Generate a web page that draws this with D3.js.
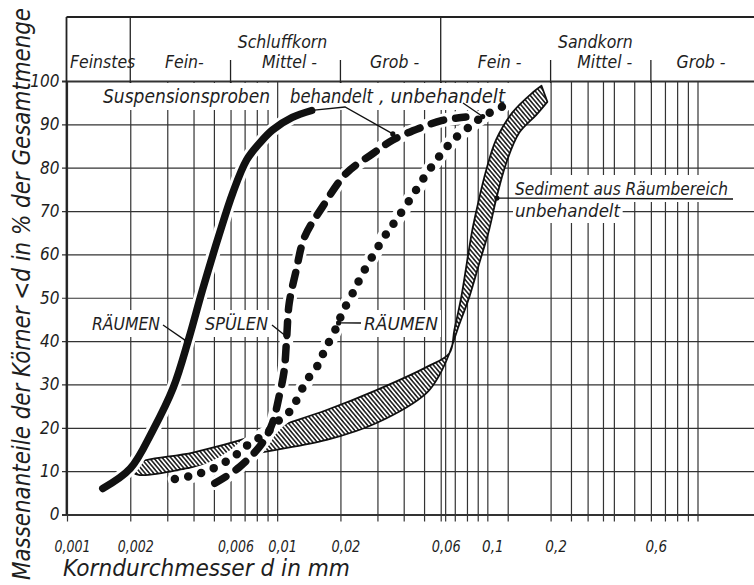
<!DOCTYPE html>
<html>
<head>
<meta charset="utf-8">
<script src="https://cdn.jsdelivr.net/npm/d3@7"></script>
<style>
  body { margin: 0; background: #fff; }
  text { font-family: "DejaVu Sans Condensed", "DejaVu Sans", sans-serif; font-style: italic; fill: #1e1e1e; }
</style>
</head>
<body>
<script>
// Kornverteilung: Massenanteile der Körner < d in % der Gesamtmenge

var percentTicks = [0, 10, 20, 30, 40, 50, 60, 70, 80, 90, 100];
var diameterLabels = [0.001, 0.002, 0.006, 0.01, 0.02, 0.06, 0.1, 0.2, 0.6];
var gridDiameters = [0.001, 0.002, 0.003, 0.004, 0.005, 0.006, 0.007, 0.008, 0.009,
                     0.01, 0.02, 0.03, 0.04, 0.05, 0.06, 0.063, 0.07, 0.08, 0.09,
                     0.1, 0.125, 0.2, 0.25, 0.3, 0.355, 0.4, 0.5, 0.6, 0.7, 0.8, 0.9, 1];

// header: fractions and groups
var fractionNames = ['Feinstes', 'Fein-', 'Mittel -', 'Grob -', 'Fein -', 'Mittel -', 'Grob -'];
var fractionLimits = [0.001, 0.002, 0.006, 0.02, 0.06, 0.2, 0.6, 1.9];
var majorLimits = [0.002, 0.06];
var groupNames = ['Schluffkorn', 'Sandkorn'];
var groupLimits = [[0.002, 0.06], [0.06, 1.9]];

// curves [d in mm, percent]
var raeumenBehandelt = [[0.00148, 6], [0.002, 10.6], [0.00256, 19.4], [0.0032, 29.2], [0.0038, 40.6],
  [0.0044, 51.6], [0.0053, 64.6], [0.00615, 74.2], [0.00716, 81.8], [0.00826, 85.7],
  [0.0095, 88.7], [0.0118, 91.6], [0.0146, 93.2]];

var spuelenBehandelt = [[0.00505, 7.2], [0.0066, 10.9], [0.0085, 16.5], [0.0095, 21.1], [0.0102, 27.1],
  [0.0108, 33.2], [0.0111, 40.9], [0.0114, 48.6], [0.0123, 56.2], [0.0135, 64], [0.0164, 70.9],
  [0.0213, 78.7], [0.0284, 83.2], [0.0355, 86.4], [0.0475, 89.1], [0.061, 90.9], [0.079, 91.7]];

var raeumenUnbehandelt = [[0.00326, 8.2], [0.00397, 9], [0.00494, 10.6], [0.00615, 13.2], [0.0074, 16.4],
  [0.0089, 18.8], [0.0102, 21.7], [0.0114, 23.6], [0.0125, 26.8], [0.0138, 30.9], [0.0156, 34.4],
  [0.0168, 37.8], [0.0192, 43.3], [0.0204, 46.5], [0.0233, 51.8], [0.025, 54.8], [0.029, 60.3],
  [0.0334, 65.1], [0.0369, 68], [0.0435, 73.2], [0.0514, 78.6], [0.061, 83.5], [0.071, 87],
  [0.084, 89.8], [0.095, 91.8], [0.118, 94.1]];

// Sediment aus Räumbereich, unbehandelt (band between two limits)
var sedimentOben = [[0.00200, 10.1], [0.0021, 11.7], [0.00397, 14.3], [0.00716, 17.6], [0.00995, 20.2],
  [0.0172, 24.1], [0.0297, 28.7], [0.0513, 34.0], [0.066, 37.2], [0.0697, 42.6], [0.0752, 50.2],
  [0.0803, 58.7], [0.0849, 65.7], [0.0896, 71.0], [0.0989, 79.5], [0.110, 86.4], [0.1315, 92.7],
  [0.164, 97.3], [0.181, 98.9]];
var sedimentUnten = [[0.00200, 10.1], [0.00222, 9.1], [0.00397, 10.9], [0.00826, 14.2], [0.0172, 17.2],
  [0.0297, 21.1], [0.0513, 28.0], [0.0592, 32.2], [0.066, 37.2], [0.072, 42.6], [0.0821, 50.2],
  [0.0916, 58.0], [0.102, 65.7], [0.110, 72.6], [0.123, 81.1], [0.142, 88.1], [0.171, 92.2],
  [0.193, 95.2]];

var W = 754, H = 585;
var headerTop = 17;

var x = d3.scaleLog().domain([0.001, 1]).range([67, 697.5]);
var y = d3.scaleLinear().domain([0, 100]).range([514.5, 81]);

var svg = d3.select('body').append('svg')
            .attr('width', W)
            .attr('height', H);
svg.append('rect').attr('width', W).attr('height', H).attr('fill', '#fff');

var defs = svg.append('defs');
var hatch = defs.append('pattern')
                .attr('id', 'hatch')
                .attr('patternUnits', 'userSpaceOnUse')
                .attr('width', 3.3)
                .attr('height', 3.3)
                .attr('patternTransform', 'rotate(-40)');
hatch.append('rect').attr('width', 3.3).attr('height', 3.3).attr('fill', '#fff');
hatch.append('line')
     .attr('x1', 1.65).attr('y1', 0).attr('x2', 1.65).attr('y2', 3.3)
     .attr('stroke', '#111').attr('stroke-width', 1.5);

// grid, via axes
var xGrid = svg.append('g')
               .attr('transform', 'translate(0,' + y(0) + ')')
               .call(d3.axisBottom(x)
                       .tickValues(gridDiameters)
                       .tickSizeOuter(0)
                       .tickFormat(''));
xGrid.select('.domain').remove();
xGrid.selectAll('.tick line')
     .attr('y1', 7)
     .attr('y2', y(100) - y(0))
     .attr('stroke', '#333')
     .attr('stroke-width', 1.2);

var yGrid = svg.append('g')
               .attr('transform', 'translate(66.5,0)')
               .call(d3.axisLeft(y)
                       .tickValues(percentTicks)
                       .tickSize(-(W - 66.5))
                       .tickSizeOuter(0)
                       .tickPadding(7));
yGrid.select('.domain').remove();
yGrid.selectAll('.tick line')
     .attr('x1', -4.5)
     .attr('stroke', '#333')
     .attr('stroke-width', function(d){ return (d === 0 || d === 100) ? 1.8 : 1.2; });
yGrid.selectAll('.tick text')
     .attr('font-family', null)
     .attr('font-size', 17)
     .attr('fill', '#1e1e1e');

var xLabels = svg.append('g')
                 .attr('transform', 'translate(0,' + y(0) + ')')
                 .call(d3.axisBottom(x)
                         .tickValues(diameterLabels)
                         .tickSize(0)
                         .tickFormat(function(d){ return String(d).replace('.', ','); }));
xLabels.select('.domain').remove();
xLabels.selectAll('.tick text')
       .attr('font-family', null)
       .attr('font-size', 15)
       .attr('fill', '#1e1e1e')
       .attr('y', 37)
       .attr('dy', 0)
       .attr('dx', 5)
       .attr('textLength', function(d){ return String(d).length * 7.2; })
       .attr('lengthAdjust', 'spacingAndGlyphs');

// header box
var header = svg.append('g').attr('stroke', '#222');
header.append('line')
      .attr('x1', 66.5).attr('x2', W)
      .attr('y1', headerTop).attr('y2', headerTop)
      .attr('stroke-width', 1.8);
header.append('line')
      .attr('x1', 66.5).attr('x2', 66.5)
      .attr('y1', headerTop).attr('y2', y(0))
      .attr('stroke-width', 1.8);
header.selectAll('line.div')
      .data(fractionLimits.slice(1, -1))
      .enter()
      .append('line')
      .attr('x1', function(d){ return x(d); })
      .attr('x2', function(d){ return x(d); })
      .attr('y1', function(d){ return majorLimits.indexOf(d) >= 0 ? headerTop : y(100) - 21; })
      .attr('y2', y(100) + 2)
      .attr('stroke-width', 1.3);

svg.selectAll('text.fraction')
   .data(fractionNames)
   .enter()
   .append('text')
   .attr('x', function(d, i){ return Math.min(x(Math.sqrt(fractionLimits[i] * fractionLimits[i + 1])), 697) + 4; })
   .attr('y', y(100) - 13)
   .attr('text-anchor', 'middle')
   .attr('font-size', 17.5)
   .text(function(d){ return d; });

svg.selectAll('text.group')
   .data(groupNames)
   .enter()
   .append('text')
   .attr('x', function(d, i){ return x(Math.sqrt(groupLimits[i][0] * groupLimits[i][1])) - 3; })
   .attr('y', y(100) - 33)
   .attr('text-anchor', 'middle')
   .attr('font-size', 17.5)
   .text(function(d){ return d; });

// layers
var bgLayer = svg.append('g');
var markLayer = svg.append('g');
var textLayer = svg.append('g');

function label(txt, x0, y0, size, len, pad) {
  var t = textLayer.append('text')
                   .attr('x', x0)
                   .attr('y', y0)
                   .attr('font-size', size)
                   .text(txt);
  if (len) t.attr('textLength', len).attr('lengthAdjust', 'spacingAndGlyphs');
  if (pad !== undefined) {
    var b = t.node().getBBox();
    var top = Math.max(b.y - pad, y(100) + 2);
    bgLayer.append('rect')
           .attr('x', b.x - pad).attr('y', top)
           .attr('width', b.width + 2 * pad).attr('height', b.y + b.height + pad - top)
           .attr('fill', '#fff');
  }
  return t;
}

var line = d3.line()
             .x(function(d){ return x(d[0]); })
             .y(function(d){ return y(d[1]); })
             .curve(d3.curveCatmullRom.alpha(0.5));

// hatched band
var bandPath = line(sedimentOben) + 'L' + line(sedimentUnten.slice().reverse()).slice(1) + 'Z';
markLayer.append('path')
         .attr('d', bandPath)
         .attr('fill', 'url(#hatch)')
         .attr('stroke', '#111')
         .attr('stroke-width', 1.8)
         .attr('stroke-linejoin', 'round');

var curves = [
  {data: raeumenBehandelt, width: 7.5, dash: null},
  {data: spuelenBehandelt, width: 7.5, dash: '13 12'},
  {data: raeumenUnbehandelt, width: 8.5, dash: '0 13.5'}
];

curves.forEach(function(c){
  markLayer.append('path')
           .attr('d', line(c.data))
           .attr('fill', 'none')
           .attr('stroke', '#fff')
           .attr('stroke-width', c.width + 6)
           .attr('stroke-linecap', 'round');
});
curves.forEach(function(c){
  markLayer.append('path')
           .attr('d', line(c.data))
           .attr('fill', 'none')
           .attr('stroke', '#111')
           .attr('stroke-width', c.width)
           .attr('stroke-linecap', 'round')
           .attr('stroke-dasharray', c.dash);
});

// leader lines: points given as [d, %] sit on a curve, others are pixel anchors next to a label
var leaders = [
  [[163, 325], [0.0037, 40]],
  [[272, 325], [0.0111, 41]],
  [[361, 323], [0.0196, 44.2]],
  [[0.0146, 93.2], [345, 107], [0.0355, 87.8]],
  [[463, 103], [0.095, 91.8]],
  [[0.111, 73], [733, 199]]
];
function onCurve(p) { return p[0] < 1; }
function px(p) { return onCurve(p) ? [x(p[0]), y(p[1])] : p; }
leaders.forEach(function(pts){
  var pp = pts.map(px);
  markLayer.append('path')
           .attr('d', d3.line()(pp))
           .attr('fill', 'none')
           .attr('stroke', '#111')
           .attr('stroke-width', 1.3);
  pts.forEach(function(p, i){
    if (onCurve(p)) {
      markLayer.append('circle')
               .attr('cx', pp[i][0]).attr('cy', pp[i][1])
               .attr('r', 2.6).attr('fill', '#111');
    }
  });
});

// annotations
label('Suspensionsproben', 103, 103, 19, 167, 3);
label('behandelt', 290, 103, 19, 83, 3);
label(', unbehandelt', 379, 103, 19, 126, 3);
label('RÄUMEN', 92, 330, 18, 68, 3);
label('SPÜLEN', 205, 330, 18, 63, 3);
label('RÄUMEN', 364, 330, 18, 74, 3);
label('Sediment aus Räumbereich', 515, 195, 18, 213, 3);
label('unbehandelt', 515, 217, 18, 105, 2);

// axis titles
textLayer.append('text')
         .attr('transform', 'translate(30,294) rotate(-90)')
         .attr('text-anchor', 'middle')
         .attr('font-size', 24)
         .attr('textLength', 572)
         .attr('lengthAdjust', 'spacingAndGlyphs')
         .text('Massenanteile der Körner <d in % der Gesamtmenge');
textLayer.append('text')
         .attr('x', 63)
         .attr('y', 576)
         .attr('font-size', 23)
         .attr('textLength', 287)
         .attr('lengthAdjust', 'spacingAndGlyphs')
         .text('Korndurchmesser d in mm');
</script>
</body>
</html>
